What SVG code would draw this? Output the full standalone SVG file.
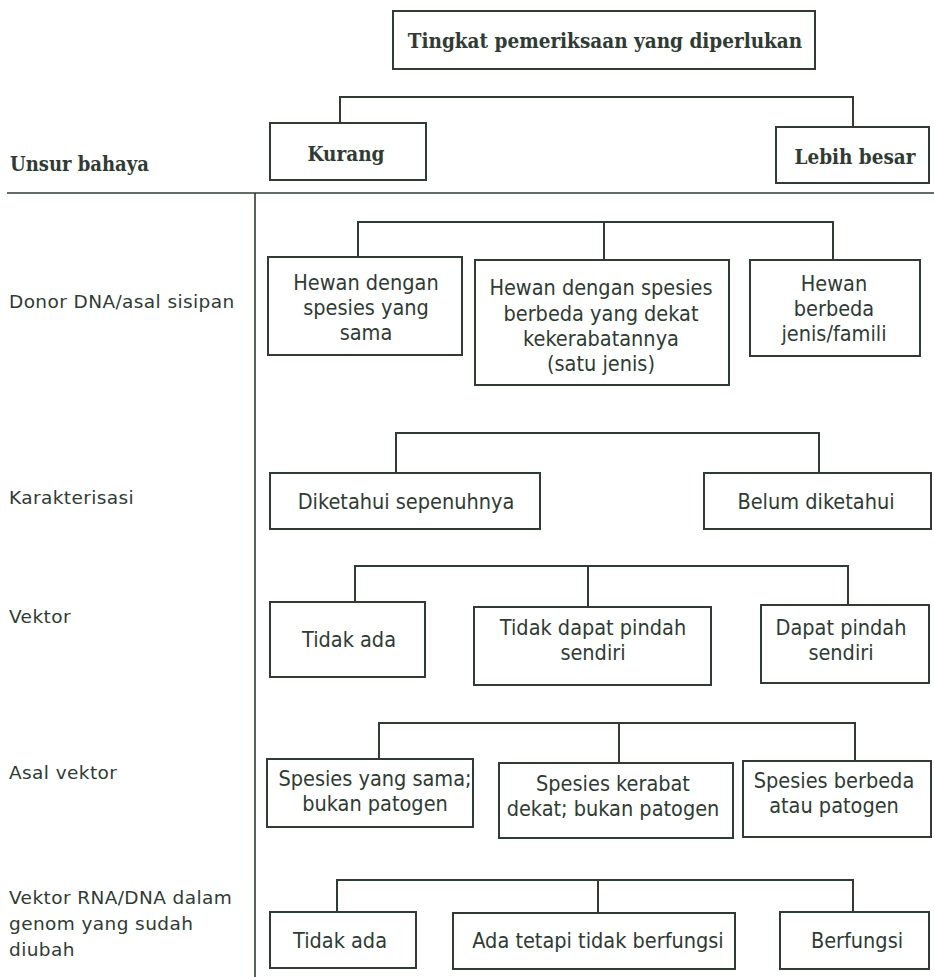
<svg xmlns="http://www.w3.org/2000/svg" width="934" height="977" viewBox="0 0 934 977">
  <style>
    .box { fill: #ffffff; stroke: #2f3b33; stroke-width: 2; }
    .wire { fill: none; stroke: #2f3b33; stroke-width: 2; }
    .rule { fill: none; stroke: #2f3b33; stroke-width: 1.6; }
    .t { font-family: "DejaVu Sans Condensed", "DejaVu Sans", sans-serif; font-stretch: condensed; font-size: 21.5px; fill: #2f3b33; text-anchor: middle; }
    .hd { font-family: "DejaVu Serif Condensed", "DejaVu Serif", serif; font-stretch: condensed; font-weight: bold; font-size: 20.5px; fill: #2f3b33; text-anchor: middle; }
    .lab { font-family: "DejaVu Sans", sans-serif; font-size: 18.5px; letter-spacing: 0.4px; fill: #2f3b33; }
    .labb { font-family: "DejaVu Serif Condensed", "DejaVu Serif", serif; font-stretch: condensed; font-weight: bold; font-size: 20px; fill: #2f3b33; }
  </style>
  <rect width="934" height="977" fill="#ffffff"/>

  <!-- table frame -->
  <g id="frame">
    <line class="rule" x1="7" y1="193" x2="934" y2="193"/>
    <line class="rule" x1="255" y1="193" x2="255" y2="977"/>
  </g>

  <!-- row labels -->
  <g id="labels">
    <text class="labb" x="10" y="171">Unsur bahaya</text>
    <text class="lab" x="9" y="308">Donor DNA/asal sisipan</text>
    <text class="lab" x="9" y="504">Karakterisasi</text>
    <text class="lab" x="9" y="623">Vektor</text>
    <text class="lab" x="9" y="779">Asal vektor</text>
    <text class="lab" x="9" y="904">Vektor RNA/DNA dalam</text>
    <text class="lab" x="9" y="930">genom yang sudah</text>
    <text class="lab" x="9" y="956">diubah</text>
  </g>

  <!-- connectors -->
  <g id="connectors">
    <path class="wire" d="M340,123 V97 H853 V127"/>
    <path class="wire" d="M358,257 V222 H833 V260 M604,222 V260"/>
    <path class="wire" d="M396,473 V433 H819 V473"/>
    <path class="wire" d="M355,602 V566 H848 V605 M588,566 V607"/>
    <path class="wire" d="M379,759 V723 H855 V761 M619,723 V763"/>
    <path class="wire" d="M337,912 V880 H853 V912 M598,880 V913"/>
  </g>

  <!-- header -->
  <g id="title">
    <rect class="box" x="393" y="11" width="422" height="58"/>
    <text class="hd" x="605" y="48">Tingkat pemeriksaan yang diperlukan</text>
  </g>
  <g id="kurang">
    <rect class="box" x="270" y="123" width="156" height="57"/>
    <text class="hd" x="346" y="161">Kurang</text>
  </g>
  <g id="lebih-besar">
    <rect class="box" x="776" y="127" width="153" height="56"/>
    <text class="hd" x="855" y="164">Lebih besar</text>
  </g>

  <!-- Donor DNA -->
  <g id="donor-sama">
    <rect class="box" x="268" y="257" width="194" height="98"/>
    <text class="t" x="366" y="290">Hewan dengan</text>
    <text class="t" x="366" y="315">spesies yang</text>
    <text class="t" x="366" y="340">sama</text>
  </g>
  <g id="donor-dekat">
    <rect class="box" x="475" y="260" width="254" height="125"/>
    <text class="t" x="601" y="295">Hewan dengan spesies</text>
    <text class="t" x="601" y="321">berbeda yang dekat</text>
    <text class="t" x="601" y="346">kekerabatannya</text>
    <text class="t" x="601" y="371">(satu jenis)</text>
  </g>
  <g id="donor-beda">
    <rect class="box" x="750" y="260" width="170" height="96"/>
    <text class="t" x="834" y="291">Hewan</text>
    <text class="t" x="834" y="316">berbeda</text>
    <text class="t" x="834" y="341">jenis/famili</text>
  </g>

  <!-- Karakterisasi -->
  <g id="kar-penuh">
    <rect class="box" x="270" y="473" width="270" height="56"/>
    <text class="t" x="406" y="509">Diketahui sepenuhnya</text>
  </g>
  <g id="kar-belum">
    <rect class="box" x="704" y="473" width="227" height="56"/>
    <text class="t" x="816" y="509">Belum diketahui</text>
  </g>

  <!-- Vektor -->
  <g id="vek-tidak">
    <rect class="box" x="270" y="602" width="155" height="75"/>
    <text class="t" x="349" y="647">Tidak ada</text>
  </g>
  <g id="vek-tidak-pindah">
    <rect class="box" x="474" y="607" width="237" height="78"/>
    <text class="t" x="593" y="635">Tidak dapat pindah</text>
    <text class="t" x="593" y="660">sendiri</text>
  </g>
  <g id="vek-pindah">
    <rect class="box" x="761" y="605" width="168" height="78"/>
    <text class="t" x="841" y="635">Dapat pindah</text>
    <text class="t" x="841" y="660">sendiri</text>
  </g>

  <!-- Asal vektor -->
  <g id="asal-sama">
    <rect class="box" x="267" y="759" width="206" height="68"/>
    <text class="t" x="375" y="786">Spesies yang sama;</text>
    <text class="t" x="375" y="811">bukan patogen</text>
  </g>
  <g id="asal-kerabat">
    <rect class="box" x="499" y="763" width="234" height="75"/>
    <text class="t" x="613" y="791">Spesies kerabat</text>
    <text class="t" x="613" y="816">dekat; bukan patogen</text>
  </g>
  <g id="asal-beda">
    <rect class="box" x="743" y="761" width="188" height="76"/>
    <text class="t" x="834" y="788">Spesies berbeda</text>
    <text class="t" x="834" y="813">atau patogen</text>
  </g>

  <!-- Vektor RNA/DNA -->
  <g id="rna-tidak">
    <rect class="box" x="270" y="912" width="146" height="56"/>
    <text class="t" x="340" y="948">Tidak ada</text>
  </g>
  <g id="rna-ada">
    <rect class="box" x="453" y="913" width="282" height="56"/>
    <text class="t" x="598" y="948">Ada tetapi tidak berfungsi</text>
  </g>
  <g id="rna-fungsi">
    <rect class="box" x="780" y="912" width="149" height="57"/>
    <text class="t" x="857" y="948">Berfungsi</text>
  </g>
</svg>
